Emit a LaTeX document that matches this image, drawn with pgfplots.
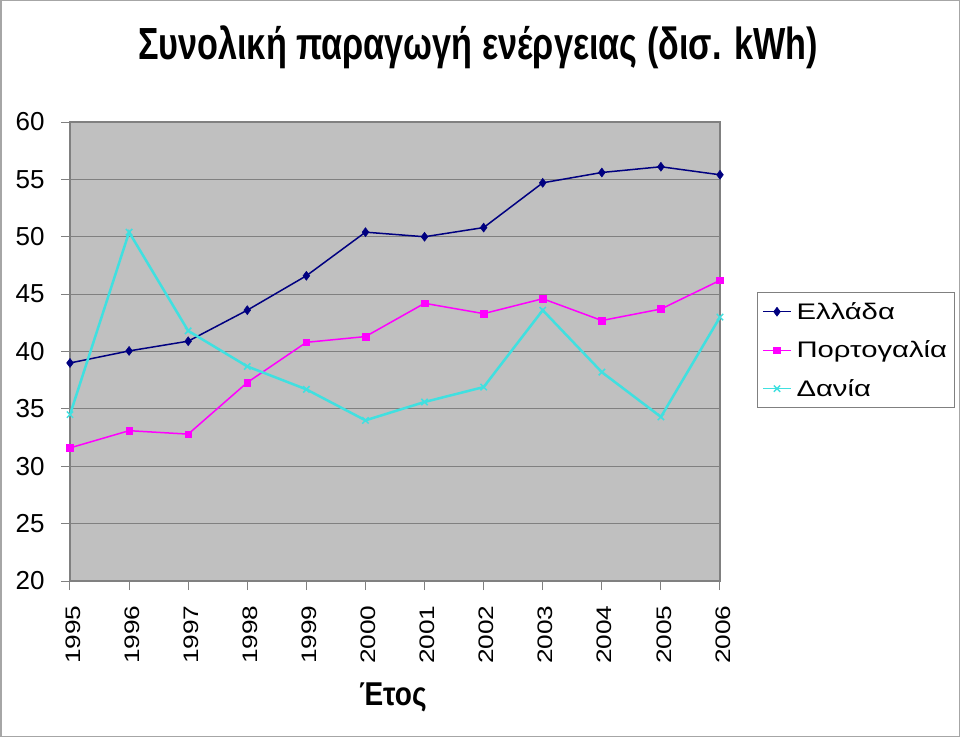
\documentclass[border=0pt]{standalone}
\usepackage{fontspec}
\setmainfont{Liberation Sans}
\usepackage{pgfplots}
\pgfplotsset{compat=1.18}
\definecolor{gr}{RGB}{0,0,128}
\definecolor{pt}{RGB}{255,0,255}
\definecolor{dk}{RGB}{64,224,224}
\definecolor{bg}{RGB}{192,192,192}
\definecolor{gl}{RGB}{128,128,128}
\newcommand{\wide}[1]{\scalebox{1.25}[1]{#1}}
\newcommand{\wider}[1]{\scalebox{1.3}[1]{#1}}
\begin{document}
\begin{tikzpicture}[x=1pt,y=1pt]
\draw[gl!70, line width=1.5pt] (0.75,0.75) rectangle (959.25,736.25);
\node[font=\fontsize{45}{48}\selectfont\bfseries] at (478,690) {\scalebox{0.76}[1]{Συνολική παραγωγή ενέργειας (δισ. kWh)}};
\node[font=\fontsize{33}{36}\selectfont\bfseries] at (393,40) {\scalebox{0.85}[1]{Έτος}};
\begin{axis}[
  at={(70pt,156pt)}, anchor=south west,
  scale only axis, width=650pt, height=459pt,
  xmin=1995, xmax=2006, ymin=20, ymax=60,
  xtick={1995,...,2006}, ytick={20,25,...,60},
  /pgf/number format/1000 sep={},
  /pgf/number format/assume math mode=true,
  yticklabel style={font=\fontsize{26}{28}\selectfont, xshift=-13pt},
  xticklabel={\wide{\pgfmathprintnumber{\tick}}},
  xticklabel style={font=\fontsize{21}{24}\selectfont, rotate=90, anchor=east, xshift=-12pt, yshift=-3pt},
  tick align=outside, major tick length=9pt,
  tick style={gl, line width=1pt},
  xtick pos=bottom, ytick pos=left,
  axis line style={gl, line width=1.2pt},
  axis background/.style={fill=bg},
  ymajorgrids, grid style={gl, line width=1.2pt},
  legend style={at={(1,1)}, anchor=north west, xshift=37pt, yshift=-170pt,
    draw=gl, line width=1pt, font=\fontsize{22.5}{26}\selectfont,
    inner xsep=5pt, inner ysep=8pt, row sep=16pt, cells={anchor=west},
    /tikz/every odd column/.append style={column sep=3pt}},
  legend cell align=left,
  legend image code/.code={
    \draw[mark repeat=2,mark phase=2,#1, line width=1pt] plot coordinates {(0pt,0pt) (14pt,0pt) (28pt,0pt)};},
]
\addplot[gr, line width=1.5pt, mark=diamond*, mark size=4.5pt, mark options={solid, line width=0.5pt}] coordinates {
(1995,39.0) (1996,40.05) (1997,40.9) (1998,43.6) (1999,46.6) (2000,50.4)
(2001,50.0) (2002,50.8) (2003,54.7) (2004,55.6) (2005,56.1) (2006,55.4)};
\addlegendentry{\wider{Ελλάδα}}
\addplot[pt, line width=1.5pt, mark=square*, mark size=3.3pt, mark options={solid, line width=0.5pt}] coordinates {
(1995,31.6) (1996,33.1) (1997,32.8) (1998,37.3) (1999,40.8) (2000,41.3)
(2001,44.2) (2002,43.3) (2003,44.6) (2004,42.7) (2005,43.7) (2006,46.2)};
\addlegendentry{\wider{Πορτογαλία}}
\addplot[dk, line width=2.5pt, mark=x, mark size=4.5pt, mark options={solid, line width=1.5pt}] coordinates {
(1995,34.5) (1996,50.4) (1997,41.8) (1998,38.7) (1999,36.7) (2000,34.0)
(2001,35.6) (2002,36.9) (2003,43.6) (2004,38.2) (2005,34.3) (2006,43.0)};
\addlegendentry{\wider{Δανία}}
\end{axis}
\end{tikzpicture}
\end{document}
